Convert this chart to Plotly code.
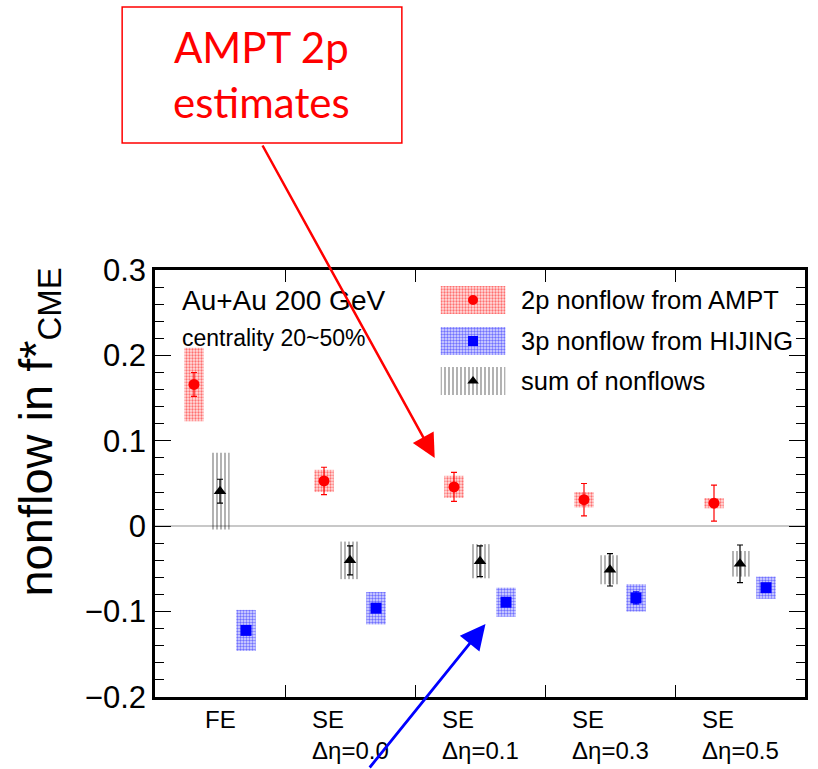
import plotly.graph_objects as go

# ---------------- data ----------------
categories = ["FE", "SE<br>Δη=0.0", "SE<br>Δη=0.1", "SE<br>Δη=0.3", "SE<br>Δη=0.5"]

ampt_2p = [0.166, 0.053, 0.046, 0.031, 0.027]
ampt_2p_stat = [0.014, 0.016, 0.017, 0.019, 0.021]
ampt_2p_sys = [0.043, 0.013, 0.013, 0.009, 0.006]

hijing_3p = [-0.122, -0.096, -0.089, -0.084, -0.072]
hijing_3p_stat = [0.004, 0.004, 0.004, 0.007, 0.004]
hijing_3p_sys = [0.024, 0.019, 0.017, 0.016, 0.013]

sum_nf = [0.041, -0.040, -0.041, -0.051, -0.044]
sum_stat = [0.014, 0.017, 0.018, 0.019, 0.022]
sum_sys = [0.045, 0.022, 0.020, 0.017, 0.015]

legend_names = ["2p nonflow from AMPT", "3p nonflow from HIJING", "sum of nonflows"]
yticks = [-0.2, -0.1, 0, 0.1, 0.2, 0.3]
yticktext = ["−0.2", "−0.1", "0", "0.1", "0.2", "0.3"]

# ---------------- layout helpers ----------------
W, H = 818, 769
L, R, T, B = 155, 10, 270, 72
PW, PH = W - L - R, H - T - B


def px(x):
    return (x - L) / PW


def py(y):
    return (H - B - y) / PH


FONT = "Liberation Sans, Arial, sans-serif"

# (values, stat, sys, offset, color, symbol, box background, pattern shape, pattern size, solidity)
red = (ampt_2p, ampt_2p_stat, ampt_2p_sys, -0.2, "#ff0000", "circle", "rgba(255,0,0,0.12)", ".", 3, 0.45)
blk = (sum_nf, sum_stat, sum_sys, 0.0, "#000000", "triangle-up", "rgba(255,255,255,0)", "|", 4, 0.3)
blu = (hijing_3p, hijing_3p_stat, hijing_3p_sys, 0.2, "#0000ff", "square", "rgba(0,0,255,0.12)", ".", 3, 0.5)
series = [red, blk, blu]

fig = go.Figure()


def box_marker(s):
    return dict(color=s[6], line=dict(width=0),
                pattern=dict(shape=s[7], fgcolor=s[4], bgcolor=s[6], size=s[8], solidity=s[9]))


# systematic boxes
for s in series:
    vals, stat, sys = s[0], s[1], s[2]
    xs = [i + 0.5 + s[3] for i in range(len(vals))]
    fig.add_trace(go.Bar(
        x=xs, y=[2 * e for e in sys], base=[v - e for v, e in zip(vals, sys)],
        width=0.15, marker=box_marker(s), showlegend=False, hoverinfo="skip",
    ))

# points with stat errors
for s in series:
    vals, stat = s[0], s[1]
    xs = [i + 0.5 + s[3] for i in range(len(vals))]
    fig.add_trace(go.Scatter(
        x=xs, y=vals, mode="markers",
        marker=dict(symbol=s[5], size=11, color=s[4], line=dict(width=0)),
        error_y=dict(type="data", array=stat, visible=True, color=s[4], thickness=1.2, width=3),
        showlegend=False,
    ))

# ---------------- custom legend (on pixel overlay axes) ----------------
leg_rows_y = [300, 341, 381]
for s, yrow, name in zip([red, blu, blk], leg_rows_y, legend_names):
    fig.add_trace(go.Bar(
        x=[474.5], y=[28], base=[yrow - 14], width=65, marker=box_marker(s),
        xaxis="x2", yaxis="y2", showlegend=False, hoverinfo="skip",
    ))
    fig.add_trace(go.Scatter(
        x=[474.5], y=[yrow], mode="markers",
        marker=dict(symbol=s[5], size=10, color=s[4]),
        xaxis="x2", yaxis="y2", showlegend=False, hoverinfo="skip",
    ))
    fig.add_annotation(x=px(521), y=py(yrow), xref="paper", yref="paper", text=name,
                       showarrow=False, xanchor="left", yanchor="middle",
                       font=dict(family=FONT, size=25.5, color="black"))

# category labels
for i, c in enumerate(categories):
    fig.add_annotation(x=i + 0.5, y=py(704), xref="x", yref="paper", text=c,
                       showarrow=False, xanchor="center", yanchor="top", align="left",
                       font=dict(family=FONT, size=24, color="black"))

# y-axis title
fig.add_annotation(x=px(38), y=py(432), xref="paper", yref="paper",
                   text="nonflow in f*<sub>CME</sub>", showarrow=False, textangle=-90,
                   xanchor="center", yanchor="middle",
                   font=dict(family=FONT, size=47, color="black"))

# text in plot
fig.add_annotation(x=px(180), y=py(300), xref="paper", yref="paper", text="Au+Au 200 GeV",
                   showarrow=False, xanchor="left", yanchor="middle",
                   font=dict(family=FONT, size=28, color="black"))
fig.add_annotation(x=px(180), y=py(338), xref="paper", yref="paper", text="centrality 20~50%",
                   showarrow=False, xanchor="left", yanchor="middle",
                   font=dict(family=FONT, size=23, color="black"))

# red callout box
fig.add_shape(type="rect", xref="paper", yref="paper",
              x0=px(122), x1=px(403), y0=py(143), y1=py(7),
              line=dict(color="#ff0000", width=1.5), fillcolor="rgba(0,0,0,0)")
fig.add_annotation(x=px(262), y=py(75), xref="paper", yref="paper",
                   text="AMPT 2p<br>estimates", showarrow=False,
                   xanchor="center", yanchor="middle",
                   font=dict(family="Lato, Open Sans, sans-serif", size=42, color="#ff0000"))

# arrows
fig.add_annotation(x=px(436), y=py(458), xref="paper", yref="paper", text="",
                   showarrow=True, ax=263 - 436, ay=144 - 458,
                   arrowhead=2, arrowsize=1.9, arrowwidth=2.5, arrowcolor="#ff0000")
fig.add_annotation(x=px(487), y=py(624), xref="paper", yref="paper", text="",
                   showarrow=True, ax=370 - 487, ay=775 - 624,
                   arrowhead=2, arrowsize=1.8, arrowwidth=2.8, arrowcolor="#0000ff")

fig.update_layout(
    width=W, height=H,
    margin=dict(l=L, r=R, t=T, b=B),
    paper_bgcolor="white", plot_bgcolor="white",
    barmode="overlay",
    xaxis=dict(range=[0, 5], tickvals=[1, 2, 3, 4], showticklabels=False,
               ticks="inside", ticklen=12, tickcolor="black", tickwidth=1,
               showline=True, linecolor="black", linewidth=2.5, mirror="ticks",
               showgrid=False, zeroline=False, fixedrange=True),
    yaxis=dict(range=[-0.2, 0.3], tickvals=yticks, ticktext=yticktext,
               ticks="inside", ticklen=16, tickcolor="black", tickwidth=1,
               minor=dict(dtick=0.02, ticks="inside", ticklen=9, tickcolor="black", tickwidth=1),
               showline=True, linecolor="black", linewidth=2.5, mirror="ticks",
               showgrid=False, zeroline=True, zerolinecolor="#c8c8c8", zerolinewidth=1.5,
               tickfont=dict(family=FONT, size=31, color="black"),
               fixedrange=True),
    xaxis2=dict(range=[L, W - R], overlaying="x", visible=False, fixedrange=True),
    yaxis2=dict(range=[H - B, T], overlaying="y", visible=False, fixedrange=True),
    showlegend=False,
)

fig.write_html("out.html")
